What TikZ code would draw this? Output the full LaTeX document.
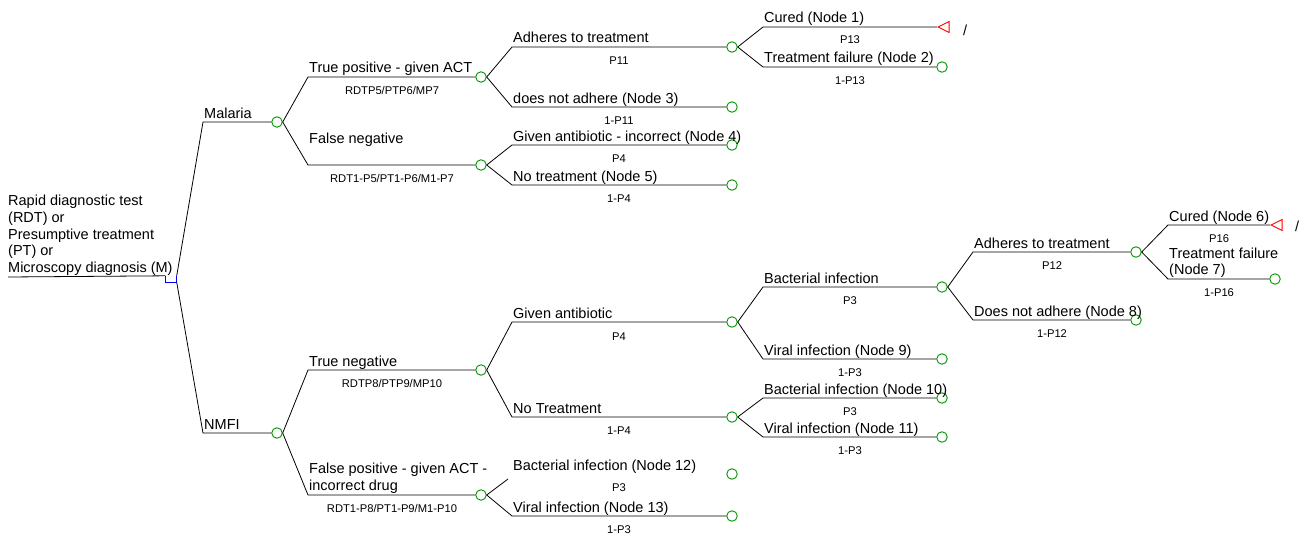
\documentclass[tikz,border=0pt]{standalone}
\usepackage{fontspec}
\setmainfont{Liberation Sans}
\usetikzlibrary{shapes.geometric}
\definecolor{chancegreen}{RGB}{0,150,0}
\tikzset{%
  chance/.style={draw=chancegreen, circle, line width=0.9pt, minimum size=10.5pt, inner sep=0pt},
  decbox/.style={rectangle, minimum width=11pt, minimum height=6pt, inner sep=0pt},
  terminal/.style={draw=red, isosceles triangle, shape border rotate=180, isosceles triangle stretches, minimum width=11pt, minimum height=11pt, inner sep=0pt, line width=0.9pt, anchor=apex},
  branch/.style={draw, line width=0.8pt},
  lbl/.style={anchor=base west, inner sep=0pt, font=\fontsize{14.5}{16.8}\selectfont},
  multilbl/.style={lbl, anchor=south west, align=left},
  prob/.style={anchor=base, inner sep=0pt, font=\fontsize{11.2}{13}\selectfont}}

\begin{document}
\begin{tikzpicture}[x=1pt, y=-1pt]
    \useasboundingbox (0,0) rectangle (1305,535);
    % Root decision
    \coordinate (start) at (8,277);
    \node (rdt) [decbox] at (171,279) {};
    \node (rdtlbl) [multilbl] at (8,276) {Rapid diagnostic test\\(RDT) or\\Presumptive treatment\\(PT) or\\Microscopy diagnosis (M)};
    % Chance nodes: malaria side
    \node (malaria) [chance] at (277,122) {};
    \node (truepos) [chance] at (481,77) {};
    \node (falseneg) [chance] at (481,165) {};
    \node (adh1) [chance] at (732,47) {};
    \node (nadh1) [chance] at (732,107) {};
    \node (abx1) [chance] at (732,145) {};
    \node (notx1) [chance] at (732,185) {};
    \node (cured1) [terminal] at (937,27) {};
    \node (fail1) [chance] at (942,67) {};
    % Chance nodes: NMFI side
    \node (nmfi) [chance] at (277,433) {};
    \node (trueneg) [chance] at (481,370) {};
    \node (falsepos) [chance] at (481,495) {};
    \node (abx2) [chance] at (732,322) {};
    \node (notx2) [chance] at (732,417) {};
    \node (bact12) [chance] at (732,474) {};
    \node (vir13) [chance] at (732,516) {};
    \node (bact) [chance] at (942,287) {};
    \node (vir9) [chance] at (942,359) {};
    \node (bact10) [chance] at (942,398) {};
    \node (vir11) [chance] at (942,437) {};
    \node (adh2) [chance] at (1136,252) {};
    \node (nadh2) [chance] at (1136,320) {};
    \node (cured2) [terminal] at (1270,225) {};
    \node (fail2) [chance] at (1275,279) {};
    % Branch corners
    \coordinate (cmal) at (203,122);
    \coordinate (cnmfi) at (203,433);
    \coordinate (ctp) at (308,77);
    \coordinate (cfn) at (308,165);
    \coordinate (ctn) at (308,370);
    \coordinate (cfp) at (308,495);
    \coordinate (cadh1) at (512,47);
    \coordinate (cnadh1) at (512,107);
    \coordinate (cabx1) at (512,145);
    \coordinate (cnotx1) at (512,185);
    \coordinate (cabx2) at (512,322);
    \coordinate (cnotx2) at (512,417);
    \coordinate (cbact12) at (508,479);
    \coordinate (cvir13) at (512,516);
    \coordinate (ccured1) at (763,27);
    \coordinate (cfail1) at (763,67);
    \coordinate (cbact) at (763,287);
    \coordinate (cvir9) at (763,359);
    \coordinate (cbact10) at (763,398);
    \coordinate (cvir11) at (763,437);
    \coordinate (cadh2) at (973,252);
    \coordinate (cnadh2) at (973,320);
    \coordinate (ccured2) at (1168,225);
    \coordinate (cfail2) at (1168,279);
    % Branches
    \draw[branch] (start) -- (rdt.north west);
    \draw[blue, line width=0.8pt] (rdt.north west) |- (rdt.south east) -- (rdt.north east);
    \draw[branch] (rdt.north east) -- (cmal) -- (malaria);
    \draw[branch] (rdt.south east) -- (cnmfi) -- (nmfi);
    \draw[branch] (malaria.east) -- (ctp) -- (truepos);
    \draw[branch] (malaria.east) -- (cfn) -- (falseneg);
    \draw[branch] (truepos.east) -- (cadh1) -- (adh1);
    \draw[branch] (truepos.east) -- (cnadh1) -- (nadh1);
    \draw[branch] (falseneg.east) -- (cabx1) -- (abx1);
    \draw[branch] (falseneg.east) -- (cnotx1) -- (notx1);
    \draw[branch] (adh1.east) -- (ccured1) -- (cured1.apex);
    \draw[branch] (adh1.east) -- (cfail1) -- (fail1);
    \draw[branch] (nmfi.east) -- (ctn) -- (trueneg);
    \draw[branch] (nmfi.east) -- (cfp) -- (falsepos);
    \draw[branch] (trueneg.east) -- (cabx2) -- (abx2);
    \draw[branch] (trueneg.east) -- (cnotx2) -- (notx2);
    \draw[branch] (falsepos.east) -- (cbact12);
    \draw[branch] (falsepos.east) -- (cvir13) -- (vir13);
    \draw[branch] (abx2.east) -- (cbact) -- (bact);
    \draw[branch] (abx2.east) -- (cvir9) -- (vir9);
    \draw[branch] (notx2.east) -- (cbact10) -- (bact10);
    \draw[branch] (notx2.east) -- (cvir11) -- (vir11);
    \draw[branch] (bact.east) -- (cadh2) -- (adh2);
    \draw[branch] (bact.east) -- (cnadh2) -- (nadh2);
    \draw[branch] (adh2.east) -- (ccured2) -- (cured2.apex);
    \draw[branch] (adh2.east) -- (cfail2) -- (fail2);
    % Branch labels and probabilities
    \node (mallbl) [lbl] at (204,118) {Malaria};
    \node (nmfilbl) [lbl] at (204,429) {NMFI};
    \node (tplbl) [lbl] at (309,73) {True positive - given ACT};
    \node (tpprob) [prob] at (392,94) {RDTP5/PTP6/MP7};
    \node (fnlbl) [lbl] at (309,143) {False negative};
    \node (fnprob) [prob] at (392,182) {RDT1-P5/PT1-P6/M1-P7};
    \node (adh1lbl) [lbl] at (513,43) {Adheres to treatment};
    \node (adh1prob) [prob] at (619,64) {P11};
    \node (nadh1lbl) [lbl] at (513,103) {does not adhere (Node 3)};
    \node (nadh1prob) [prob] at (619,124) {1-P11};
    \node (abx1lbl) [lbl] at (513,141) {Given antibiotic - incorrect (Node 4)};
    \node (abx1prob) [prob] at (619,162) {P4};
    \node (notx1lbl) [lbl] at (513,181) {No treatment (Node 5)};
    \node (notx1prob) [prob] at (619,202) {1-P4};
    \node (cured1lbl) [lbl] at (764,23) {Cured (Node 1)};
    \node (cured1prob) [prob] at (850,44) {P13};
    \node (fail1lbl) [lbl] at (764,63) {Treatment failure (Node 2)};
    \node (fail1prob) [prob] at (850,84) {1-P13};
    \node (util1) [lbl, anchor=center] at (965,30) {/};
    \node (tnlbl) [lbl] at (309,366) {True negative};
    \node (tnprob) [prob] at (392,387) {RDTP8/PTP9/MP10};
    \node (fplbl) [multilbl] at (309,494) {False positive - given ACT -\\incorrect drug};
    \node (fpprob) [prob] at (392,512) {RDT1-P8/PT1-P9/M1-P10};
    \node (abx2lbl) [lbl] at (513,318) {Given antibiotic};
    \node (abx2prob) [prob] at (619,340) {P4};
    \node (notx2lbl) [lbl] at (513,413) {No Treatment};
    \node (notx2prob) [prob] at (619,434) {1-P4};
    \node (bact12lbl) [lbl] at (513,470) {Bacterial infection (Node 12)};
    \node (bact12prob) [prob] at (619,491) {P3};
    \node (vir13lbl) [lbl] at (513,512) {Viral infection (Node 13)};
    \node (vir13prob) [prob] at (619,533) {1-P3};
    \node (bactlbl) [lbl] at (764,283) {Bacterial infection};
    \node (bactprob) [prob] at (850,304) {P3};
    \node (vir9lbl) [lbl] at (764,355) {Viral infection (Node 9)};
    \node (vir9prob) [prob] at (850,376) {1-P3};
    \node (bact10lbl) [lbl] at (764,394) {Bacterial infection (Node 10)};
    \node (bact10prob) [prob] at (850,415) {P3};
    \node (vir11lbl) [lbl] at (764,433) {Viral infection (Node 11)};
    \node (vir11prob) [prob] at (850,454) {1-P3};
    \node (adh2lbl) [lbl] at (974,248) {Adheres to treatment};
    \node (adh2prob) [prob] at (1052,269) {P12};
    \node (nadh2lbl) [lbl] at (974,316) {Does not adhere (Node 8)};
    \node (nadh2prob) [prob] at (1052,337) {1-P12};
    \node (cured2lbl) [lbl] at (1169,221) {Cured (Node 6)};
    \node (cured2prob) [prob] at (1219,242) {P16};
    \node (fail2lbl) [multilbl] at (1169,278) {Treatment failure\\(Node 7)};
    \node (fail2prob) [prob] at (1219,296) {1-P16};
    \node (util2) [lbl, anchor=center] at (1297,226) {/};
\end{tikzpicture}
\end{document}
